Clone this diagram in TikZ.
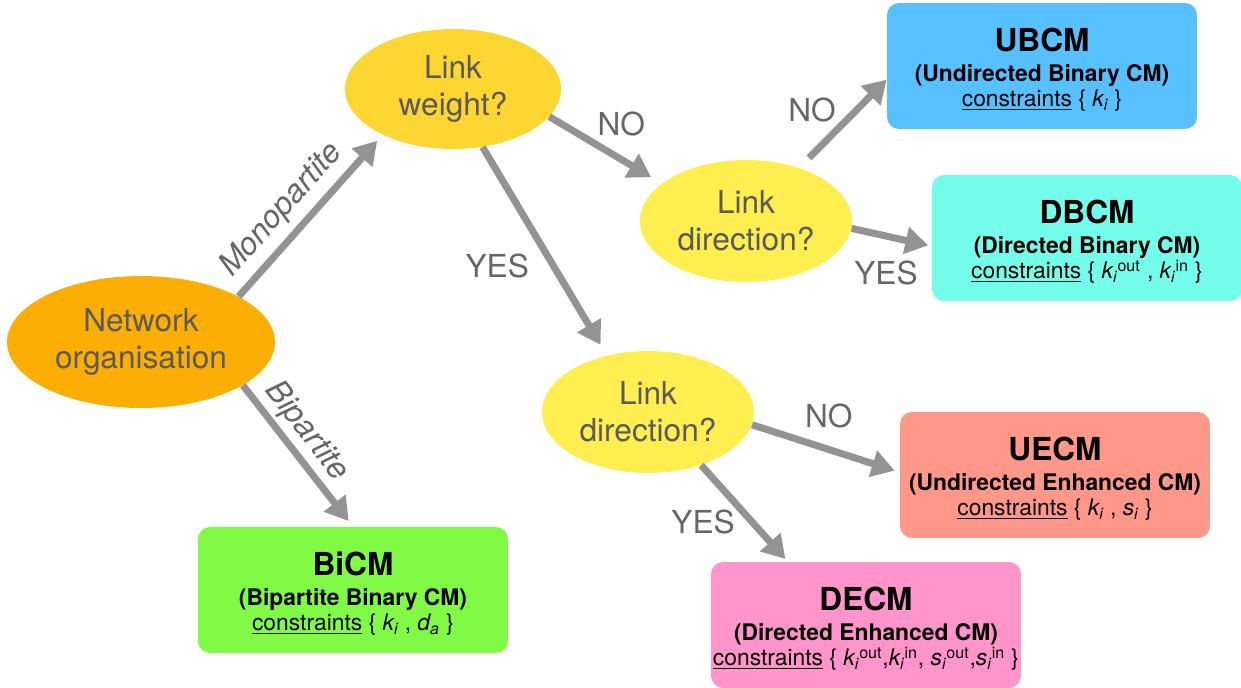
\documentclass[tikz,border=0pt]{standalone}
\usepackage{fontspec}
\setmainfont{TeX Gyre Heros}
\usetikzlibrary{shapes.geometric,arrows.meta}
\definecolor{netorange}{HTML}{FDAE05}
\definecolor{weightyellow}{HTML}{FED631}
\definecolor{diryellow}{HTML}{FFEE50}
\definecolor{textgray}{HTML}{5A5A5A}
\definecolor{labgray}{HTML}{666666}
\definecolor{arrgray}{HTML}{939393}
\definecolor{ubcmblue}{HTML}{57C0FF}
\definecolor{dbcmaqua}{HTML}{74FDEA}
\definecolor{uecmsalmon}{HTML}{FF9888}
\definecolor{decmpink}{HTML}{FF95CB}
\definecolor{bicmgreen}{HTML}{80FA45}
\newcommand{\cvar}[2]{\textit{#1\textsubscript{#2}}}
\newcommand{\modeltitle}[1]{{\fontsize{18}{20}\selectfont\bfseries\rule{0pt}{17.5pt}#1}}
\begin{document}
\begin{tikzpicture}[x=0.02cm,y=-0.02cm,
	question/.style={ellipse,inner sep=0pt,text=textgray,align=center,font=\fontsize{18}{21}\selectfont},
	model/.style={rectangle,rounded corners=0.24cm,minimum width=6.2cm,minimum height=2.52cm,
		inner sep=0pt,align=center,font=\fontsize{13}{14.2}\selectfont},
	arr/.style={draw=arrgray,line width=4pt,-{Triangle[length=13pt,width=15pt]},shorten >=3pt},
	lab/.style={text=labgray,inner sep=0pt,font=\fontsize{18}{21}\selectfont},]
\useasboundingbox (0,0) rectangle (1241,687);
% questions
\node[question,fill=netorange,minimum width=5.36cm,minimum height=2.64cm] (net) at (141,342) {Network\\organisation};
\node[question,fill=weightyellow,minimum width=4.32cm,minimum height=2.4cm] (weight) at (453,89) {Link\\weight?};
\node[question,fill=diryellow,minimum width=4.24cm,minimum height=2.44cm] (dirbin) at (746,221) {Link\\direction?};
\node[question,fill=diryellow,minimum width=4.24cm,minimum height=2.44cm] (direnh) at (648,412) {Link\\direction?};
% models
\node[model,fill=ubcmblue] (ubcm) at (1042,66) {\modeltitle{UBCM}\\[3.4pt]
	\textbf{(Undirected Binary CM)}\\ \underline{constraints} \{ \cvar{k}{i} \}};
\node[model,fill=dbcmaqua] (dbcm) at (1087,238) {\modeltitle{DBCM}\\[3.4pt]
	\textbf{(Directed Binary CM)}\\ \underline{constraints} \{ \cvar{k}{i}\textsuperscript{out} , \cvar{k}{i}\textsuperscript{in} \}};
\node[model,fill=uecmsalmon] (uecm) at (1055,475) {\modeltitle{UECM}\\[3.4pt]
	\textbf{(Undirected Enhanced CM)}\\ \underline{constraints} \{ \cvar{k}{i} , \cvar{s}{i} \}};
\node[model,fill=decmpink] (decm) at (866,625) {\modeltitle{DECM}\\[3.4pt]
	\textbf{(Directed Enhanced CM)}\\ \underline{constraints} \{ \cvar{k}{i}\textsuperscript{out},\cvar{k}{i}\textsuperscript{in}, \cvar{s}{i}\textsuperscript{out},\cvar{s}{i}\textsuperscript{in} \}};
\node[model,fill=bicmgreen] (bicm) at (353,590) {\modeltitle{BiCM}\\[3.4pt]
	\textbf{(Bipartite Binary CM)}\\ \underline{constraints} \{ \cvar{k}{i} , \cvar{d}{a} \}};
% arrows
\draw[arr,shorten >=4.5pt] (net.25) -- node[lab,sloped,above=4pt,pos=0.43] {\textit{Monopartite}} (weight.213);
\draw[arr,shorten >=4pt] (net.-23) -- node[lab,sloped,above=2pt,pos=0.42] {\textit{Bipartite}} (bicm.north);
\draw[arr,shorten >=7pt] (weight.-16) -- node[lab,pos=0.64,above=11.5pt] {NO} (dirbin.156);
\draw[arr,shorten >=7pt] (weight.-63) -- node[lab,pos=0.57,left=12pt] {YES} (direnh.126);
\draw[arr,shorten <=8pt,shorten >=0pt] (dirbin.45) -- node[lab,pos=0.66,left=10pt] {NO} (ubcm.185);
\draw[arr,shorten >=2pt] (dirbin.-4) -- node[lab,pos=0.43,below=12pt] {YES} (dbcm.183);
\draw[arr] (direnh.-7) -- node[lab,pos=0.52,above=10pt] {NO} (uecm.179);
\draw[arr,shorten >=2pt] (direnh.-45) -- node[lab,pos=0.59,left=8pt] {YES} (decm.141);
\end{tikzpicture}
\end{document}
